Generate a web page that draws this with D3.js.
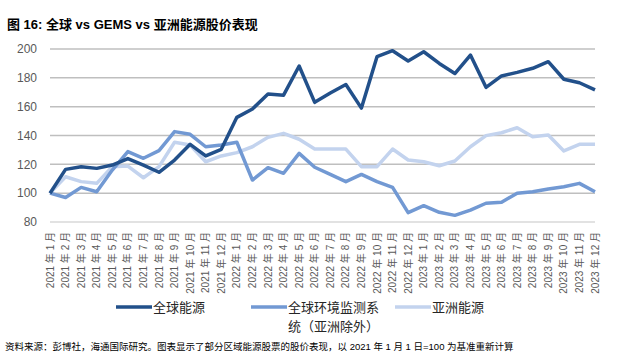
<!DOCTYPE html>
<html><head><meta charset="utf-8">
<script src="https://cdn.jsdelivr.net/npm/d3@7"></script>
<style>
body{margin:0;background:#fff;}
svg{display:block;}
text{font-family:"Liberation Sans","Noto Sans CJK SC",sans-serif;}
</style></head>
<body><svg id="c" width="617" height="357"></svg>
<script>
const months = [];
for (const y of [2021, 2022, 2023]) for (let m = 1; m <= 12; m++) months.push(y + " 年 " + m + " 月");
const globalEnergy = [100,116.5,118.3,117.2,119.5,124,119.5,114.5,123,133.9,125.8,130.4,152.6,158.4,168.8,168,188.2,163,169.5,175.4,159,194.7,198.8,191.7,198.1,190,183,195.8,173.4,181.3,183.8,186.6,191.2,179,176.6,171.6];
const gems = [100,97,104,101,116,128.8,124.2,129.5,142.7,140.8,132.2,133.4,135.3,109.1,117.7,113.8,127.6,118,113,108,113,108,104,86.5,91.3,86.7,84.6,88.3,93,93.7,100,101,102.9,104.5,106.8,101];
const asia = [100,111.4,108,106.8,118.4,118.8,110.7,118.4,135.3,133.4,121.8,125.8,128.1,132.2,138.7,141.5,137.4,130.6,130.6,130.6,118.4,118.4,130.6,123,121.8,119,122.3,132.2,139.9,141.9,145.4,139.2,140.3,129.3,133.9,133.9];
const yTicks = [80,100,120,140,160,180,200];
const seriesNames = ["全球能源","全球环境监测系|统（亚洲除外）","亚洲能源"];
const colors = ["#22508A","#7299D3","#C3D3EE"];

const svg = d3.select("#c");
const x = d3.scalePoint().domain(months).range([50, 595]);
const y = d3.scaleLinear().domain([80, 200]).range([222, 49]);

// title
svg.append("text").attr("x", 7).attr("y", 29).attr("font-size", 13).attr("font-weight", "bold")
  .attr("fill", "#000").attr("font-family", "'Noto Sans CJK SC','Liberation Sans',sans-serif")
  .text("图 16:  全球 vs GEMS vs 亚洲能源股价表现");

// grid
svg.append("g").selectAll("line").data(yTicks).join("line")
  .attr("x1", 50).attr("x2", 595).attr("y1", d => y(d)).attr("y2", d => y(d))
  .attr("stroke", d => d === 80 ? "#D9D9D9" : "#BFBFBF").attr("stroke-width", 1.5);

// y labels
svg.append("g").selectAll("text").data(yTicks).join("text")
  .attr("x", 37).attr("y", d => y(d)).attr("dy", "0.35em").attr("text-anchor", "end")
  .attr("font-size", 12).attr("fill", "#595959").text(d => d);

// x labels
svg.append("g").selectAll("text").data(months).join("text")
  .attr("transform", d => `translate(${x(d) + 3.5},232) rotate(-90)`)
  .attr("text-anchor", "end").attr("font-size", 10).attr("fill", "#595959")
  .attr("font-family", "'Liberation Sans','Noto Sans CJK SC',sans-serif")
  .text(d => d);

// lines
const line = d3.line().x((d, i) => x(months[i])).y(d => y(d));
[globalEnergy, gems, asia].map((s, k) => ({s, k})).reverse().forEach(({s, k}) => {
  svg.append("path").datum(s).attr("d", line).attr("fill", "none")
    .attr("stroke", colors[k]).attr("stroke-width", 3.5).attr("stroke-linejoin", "round");
});

// legend
const lg = [{x: 116, tx: 153}, {x: 251, tx: 288}, {x: 395, tx: 432}];
lg.forEach((p, k) => {
  svg.append("line").attr("x1", p.x).attr("x2", p.x + 36).attr("y1", 307).attr("y2", 307)
    .attr("stroke", colors[k]).attr("stroke-width", 3.5);
  const parts = seriesNames[k].split("|");
  parts.forEach((t, j) => {
    svg.append("text").attr("x", p.tx).attr("y", 312 + j * 19).attr("font-size", 13)
      .attr("fill", "#262626").attr("font-family", "'Noto Sans CJK SC',sans-serif").text(t);
  });
});

// source
svg.append("text").attr("x", 5).attr("y", 350).attr("font-size", 9.5).attr("fill", "#000")
  .attr("font-family", "'Noto Sans CJK SC',sans-serif")
  .text("资料来源：彭博社，海通国际研究。图表显示了部分区域能源股票的股价表现，以 2021 年 1 月 1 日=100 为基准重新计算");
</script></body></html>
